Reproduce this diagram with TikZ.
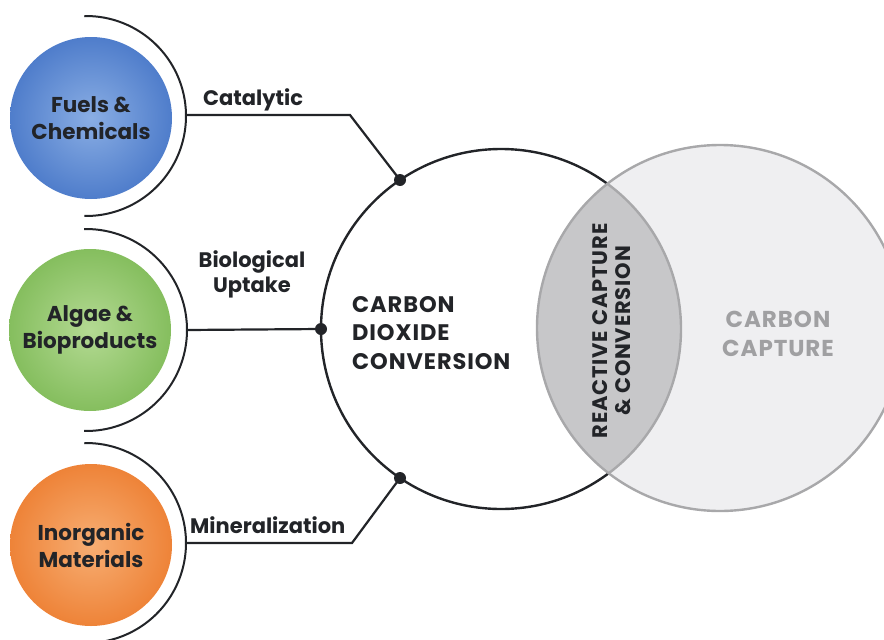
\documentclass[tikz,border=0pt]{standalone}
\usepackage{fontspec}
\setmainfont{Poppins}
\newfontfamily\widefont{Poppins}[LetterSpace=4]
\definecolor{txt}{HTML}{222428}
\definecolor{blueIn}{HTML}{8AAEE4}
\definecolor{blueOut}{HTML}{4F7DCB}
\definecolor{greenIn}{HTML}{B4DA93}
\definecolor{greenOut}{HTML}{85BE5E}
\definecolor{orangeIn}{HTML}{F7AE73}
\definecolor{orangeOut}{HTML}{EE8338}
\definecolor{capfill}{HTML}{EFEFF1}
\definecolor{capline}{HTML}{A8A8AA}
\definecolor{lensfill}{HTML}{C7C7C9}
\definecolor{captxt}{HTML}{A0A0A2}
\begin{document}
\begin{tikzpicture}[x=1pt,y=-1pt,
  ball/.style={circle, minimum size=162pt, inner sep=0, align=center, text=txt,
    font=\bfseries\fontsize{21.5}{27}\selectfont},
  halo/.style={line width=2pt, draw=txt},
  conn/.style={line width=2.2pt, draw=txt},
  lbl/.style={font=\bfseries\fontsize{21}{25}\selectfont, text=txt, align=center, inner sep=0},
  dotnode/.style={circle, fill=txt, minimum size=12pt, inner sep=0},
  big/.style={font=\widefont\bfseries\fontsize{22.5}{28.5}\selectfont, inner sep=0},
]
\useasboundingbox (0,0) rectangle (884,640);

% Carbon dioxide conversion circle
\node[circle, draw=txt, line width=2.4pt, minimum size=360pt, inner sep=0] (co2) at (501,329) {};
% Carbon capture circle
\node[circle, fill=capfill, minimum size=366pt, inner sep=0] (cap) at (720,328) {};
\begin{scope}
  \clip (501,329) circle (180);
  \fill[lensfill] (720,328) circle (183);
\end{scope}
\begin{scope}
  \clip (720,328) circle (183);
  \draw[capline, line width=2.4pt] (501,329) circle (180);
\end{scope}
\draw[capline, line width=2.4pt] (720,328) circle (183);

% texts in big circles
\node[big, text=txt, align=left, anchor=west] (co2txt) at (352,333) {CARBON\\DIOXIDE\\CONVERSION};
\node[big, font=\widefont\bfseries\fontsize{23}{29}\selectfont, text=captxt, align=center] (captext) at (778,334) {CARBON\\CAPTURE};
\node[font=\widefont\bfseries\fontsize{21}{23}\selectfont, text=txt, align=center, rotate=90, inner sep=0] (lens) at (612,331) {REACTIVE CAPTURE\\\& CONVERSION};

% product balls
\node[ball, shading=radial, inner color=blueIn, outer color=blueOut] (fuel) at (91,118) {Fuels \&\\Chemicals};
\node[ball, shading=radial, inner color=greenIn, outer color=greenOut] (algae) at (90,330) {Algae \&\\Bioproducts};
\node[ball, shading=radial, inner color=orangeIn, outer color=orangeOut] (inorg) at (91,545) {Inorganic\\Materials};

% halos
\draw[halo] (86,116) ++(-91:100) arc[start angle=-91, end angle=91, radius=100];
\draw[halo] (86,330) ++(-91:101) arc[start angle=-91, end angle=91, radius=101];
\draw[halo] (86,543) ++(-91:100) arc[start angle=-91, end angle=91, radius=100];
\coordinate (h1) at (186,115);
\coordinate (h2) at (187,330);
\coordinate (h3) at (186,543);
\coordinate (b1) at (350,115);
\coordinate (b3) at (352,543);

% dots
\node[dotnode] (d1) at (400,180) {};
\node[dotnode] (d2) at (321,329) {};
\node[dotnode] (d3) at (400,478) {};

% connectors
\draw[conn, line join=miter] (h1) -- (b1) -- (d1.center);
\draw[conn] (h2) -- (d2.center);
\draw[conn, line join=miter] (h3) -- (b3) -- (d3.center);

% labels
\node[lbl, anchor=base west] (catal) at (203,105) {Catalytic};
\node[lbl, anchor=base] (bio) at (252,292) {Biological\\Uptake};
\node[lbl, anchor=base west] (miner) at (190,533) {Mineralization};
\end{tikzpicture}
\end{document}
